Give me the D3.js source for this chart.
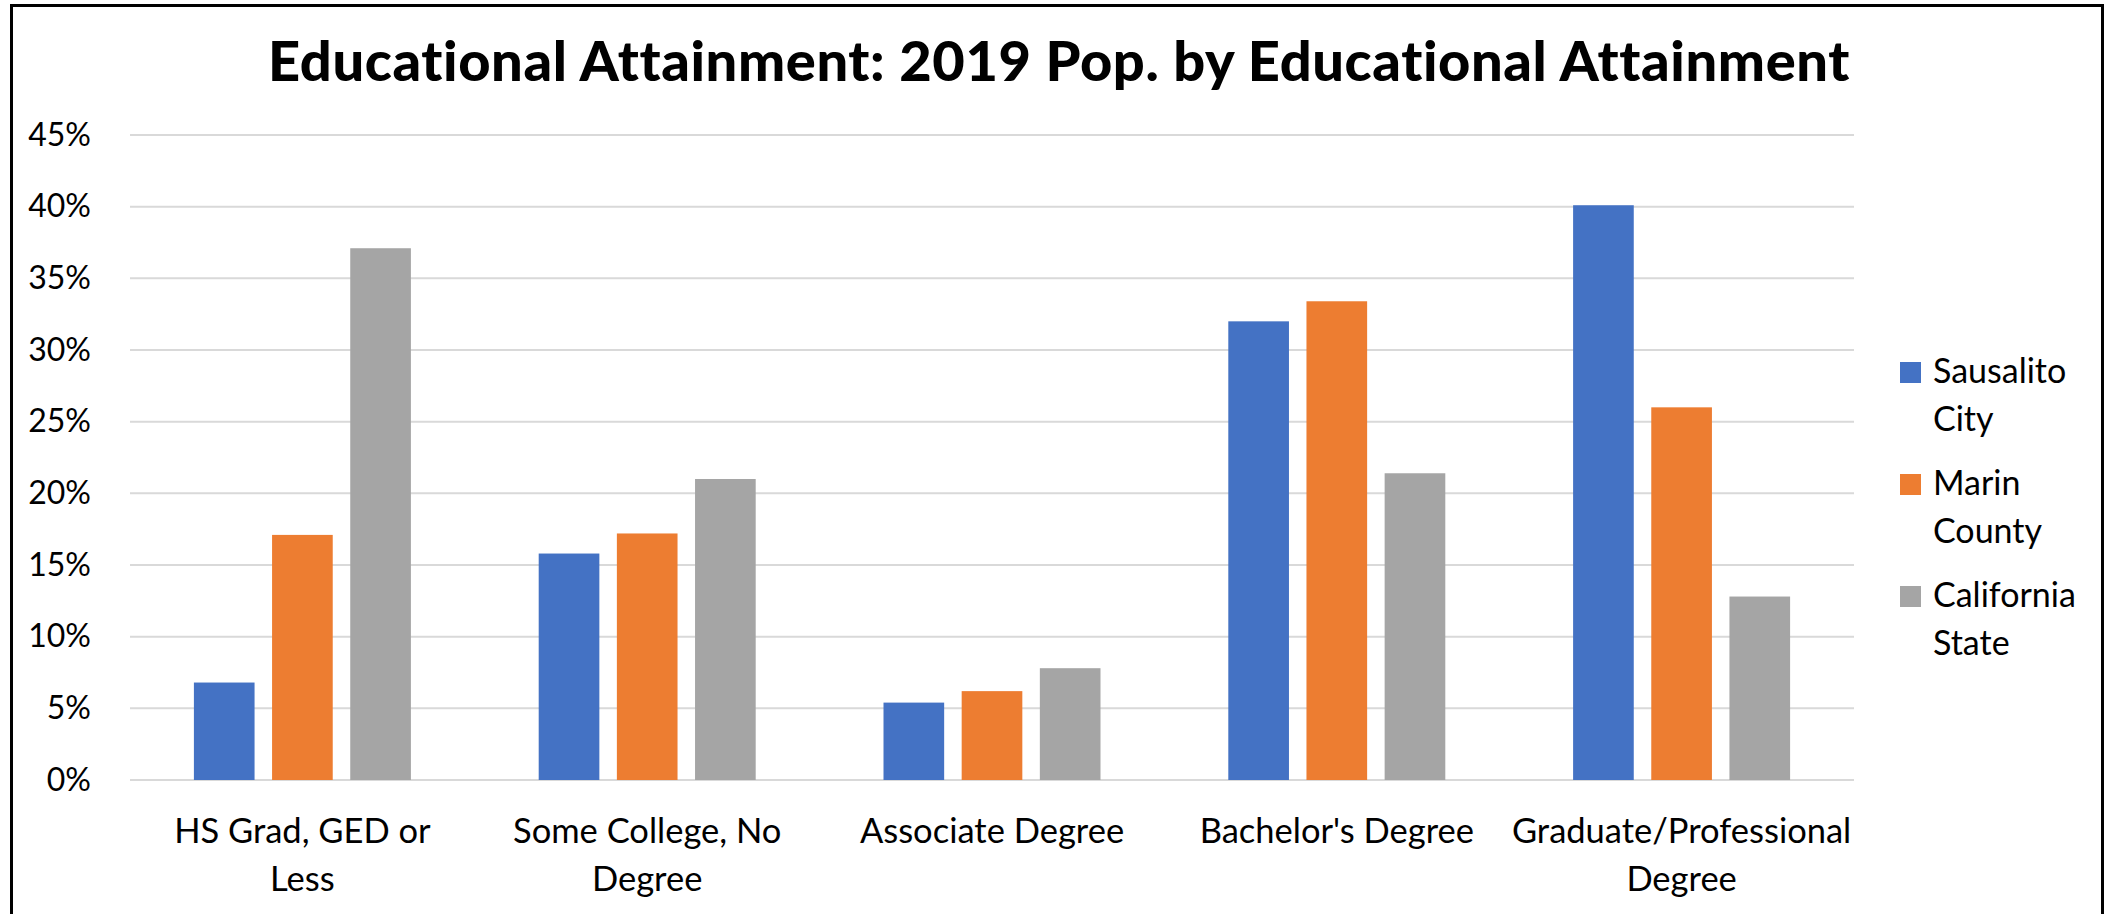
<!DOCTYPE html>
<html>
<head>
<meta charset="utf-8">
<script src="https://cdn.jsdelivr.net/npm/d3@7"></script>
<style>
  body { margin: 0; background: #fff; }
  svg text { font-family: Lato, "Open Sans", sans-serif; fill: #000; }
</style>
</head>
<body>
<div id="chart"></div>
<script>
// chart data
const categories = ['HS Grad, GED or Less', 'Some College, No Degree', 'Associate Degree', "Bachelor's Degree", 'Graduate/Professional Degree'];
const categoryLines = [['HS Grad, GED or', 'Less'], ['Some College, No', 'Degree'], ['Associate Degree'], ["Bachelor's Degree"], ['Graduate/Professional', 'Degree']];
const seriesNames = ['Sausalito City', 'Marin County', 'California State'];
const legendLines = [['Sausalito', 'City'], ['Marin', 'County'], ['California', 'State']];
const sausalito = [6.8, 15.8, 5.4, 32.0, 40.1];
const marin = [17.1, 17.2, 6.2, 33.4, 26.0];
const california = [37.1, 21.0, 7.8, 21.4, 12.8];
const yTicks = [0, 5, 10, 15, 20, 25, 30, 35, 40, 45];
const colors = ['#4472C4', '#ED7D31', '#A5A5A5'];

const seriesValues = [sausalito, marin, california];

let width = 2108, height = 914;
let plot = {left: 130, right: 1854, top: 135, bottom: 780};

let svg = d3.select('#chart').append('svg')
            .attr('width', width)
            .attr('height', height);

// outer frame
svg.append('rect')
    .attr('x', 11.5).attr('y', 5.5)
    .attr('width', 2091).attr('height', 940)
    .attr('fill', 'none')
    .attr('stroke', '#000')
    .attr('stroke-width', 3);

let x0 = d3.scaleBand()
            .domain(categories)
            .range([plot.left, plot.right])
            .padding(0);

let groupWidth = 217;
let x1 = d3.scaleBand()
            .domain(seriesNames)
            .range([0, groupWidth])
            .paddingInner(0.224)
            .paddingOuter(0);
let groupOffset = (x0.bandwidth() - groupWidth) / 2;

let y = d3.scaleLinear()
            .domain([0, 45])
            .range([plot.bottom, plot.top]);

// gridlines
svg.append('g')
    .selectAll('line')
    .data(yTicks)
  .enter().append('line')
    .attr('x1', plot.left).attr('x2', plot.right)
    .attr('y1', (d) => y(d)).attr('y2', (d) => y(d))
    .attr('stroke', '#d9d9d9')
    .attr('stroke-width', 2);

// y axis labels
let yAxis = svg.append('g')
    .attr('transform', 'translate(' + plot.left + ',0)')
    .call(d3.axisLeft(y).tickValues(yTicks).tickSize(0).tickPadding(39).tickFormat((d) => d + '%'));
yAxis.select('.domain').remove();
yAxis.selectAll('text')
    .style('font-family', 'Lato, sans-serif')
    .style('font-size', '32px')
    .attr('fill', '#000');

// bars
let rows = categories.map((c, i) => ({
  category: c,
  values: seriesNames.map((s, j) => ({series: s, value: seriesValues[j][i], color: colors[j]}))
}));

let groups = svg.append('g')
    .selectAll('g')
    .data(rows)
  .enter().append('g')
    .attr('transform', (d) => 'translate(' + (x0(d.category) + groupOffset) + ',0)');

groups.selectAll('rect')
    .data((d) => d.values)
  .enter().append('rect')
    .attr('x', (d) => x1(d.series))
    .attr('y', (d) => y(d.value))
    .attr('width', x1.bandwidth())
    .attr('height', (d) => y(0) - y(d.value))
    .attr('fill', (d) => d.color);

// x axis labels (wrapped like the original)
let xLabels = svg.append('g')
    .selectAll('text')
    .data(categories)
  .enter().append('text')
    .attr('text-anchor', 'middle')
    .style('font-size', '34.5px');

xLabels.each(function(d, i) {
  let cx = x0(d) + x0.bandwidth() / 2;
  categoryLines[i].forEach((line, k) => {
    d3.select(this).append('tspan')
        .attr('x', cx)
        .attr('y', 843 + k * 48)
        .text(line);
  });
});

// title
svg.append('text')
    .attr('x', 1059)
    .attr('y', 81)
    .attr('text-anchor', 'middle')
    .style('font-size', '56px')
    .style('font-weight', '900')
    .style('letter-spacing', '0.6px')
    .text('Educational Attainment: 2019 Pop. by Educational Attainment');

// legend
let legend = svg.append('g')
    .selectAll('g')
    .data(seriesNames)
  .enter().append('g')
    .attr('transform', (d, i) => 'translate(1900,' + (383 + i * 112) + ')');

legend.append('rect')
    .attr('x', 0).attr('y', -21)
    .attr('width', 21).attr('height', 21)
    .attr('fill', (d, i) => colors[i]);

legend.append('text')
    .style('font-size', '34px')
    .each(function(d, i) {
      legendLines[i].forEach((line, k) => {
        d3.select(this).append('tspan')
            .attr('x', 33)
            .attr('y', k * 48)
            .text(line);
      });
    });
</script>
</body>
</html>
